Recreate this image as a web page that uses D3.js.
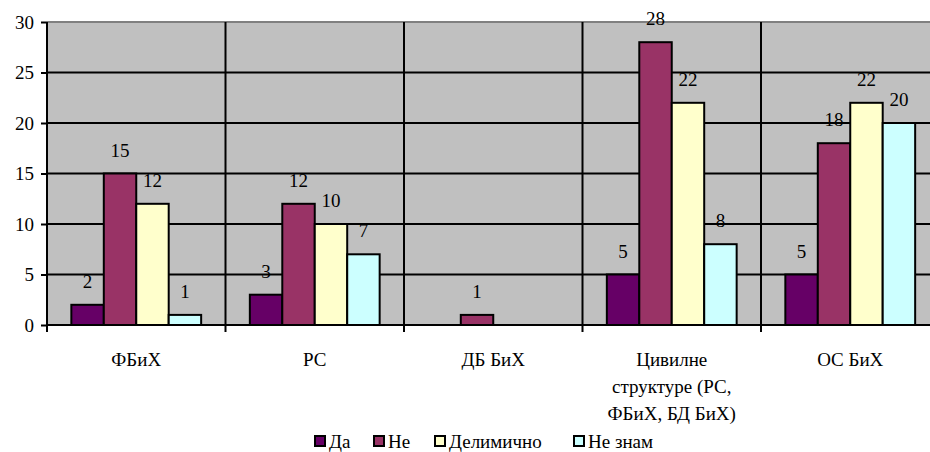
<!DOCTYPE html>
<html>
<head>
<meta charset="utf-8">
<script src="https://cdn.jsdelivr.net/npm/d3@7/dist/d3.min.js"></script>
<style>
  html, body { margin: 0; padding: 0; background: #fff; }
  svg { display: block; font-family: "Liberation Serif", "Times New Roman", serif; }
</style>
</head>
<body>
<svg id="chart" width="930" height="452"></svg>
<script>
const categories = ["ФБиХ", "РС", "ДБ БиХ", "Цивилне структуре (РС, ФБиХ, БД БиХ)", "ОС БиХ"];
const categoryLines = [["ФБиХ"], ["РС"], ["ДБ БиХ"], ["Цивилне", "структуре (РС,", "ФБиХ, БД БиХ)"], ["ОС БиХ"]];
const seriesNames = ["Да", "Не", "Делимично", "Не знам"];
const seriesColors = ["#660066", "#993366", "#FFFFCC", "#CCFFFF"];
const valuesDa = [2, 3, null, 5, 5];
const valuesNe = [15, 12, 1, 28, 18];
const valuesDelimicno = [12, 10, null, 22, 22];
const valuesNeZnam = [1, 7, null, 8, 20];
const yTicks = [0, 5, 10, 15, 20, 25, 30];

const seriesValues = [valuesDa, valuesNe, valuesDelimicno, valuesNeZnam];
const FONT = "'Liberation Serif', 'Times New Roman', serif";
const FS = 19;

const svg = d3.select("#chart");
const pLeft = 47, pTop = 22, pBottom = 325, pRight = 939.5;

const x0 = d3.scaleBand().domain(categories).range([pLeft, pRight]).paddingInner(0).paddingOuter(0);
const x1 = d3.scaleBand().domain(seriesNames).range([0, x0.bandwidth()]).paddingInner(0).paddingOuter(0.75);
const y = d3.scaleLinear().domain([0, 30]).range([pBottom, pTop]);

// plot area
svg.append("rect").attr("x", pLeft).attr("y", pTop).attr("width", pRight - pLeft).attr("height", pBottom - pTop)
  .attr("fill", "#C0C0C0");
svg.append("line").attr("x1", pLeft).attr("x2", pRight).attr("y1", pTop).attr("y2", pTop)
  .attr("stroke", "#808080").attr("stroke-width", 2);

// gridlines
svg.append("g").selectAll("line").data(yTicks.filter(d => d > 0 && d < 30)).join("line")
  .attr("x1", pLeft).attr("x2", pRight).attr("y1", d => y(d)).attr("y2", d => y(d))
  .attr("stroke", "#000").attr("stroke-width", 2);
svg.append("g").selectAll("line").data(categories.slice(1)).join("line")
  .attr("x1", d => x0(d)).attr("x2", d => x0(d)).attr("y1", pTop).attr("y2", pBottom + 7)
  .attr("stroke", "#000").attr("stroke-width", 2);

// bars
const groups = svg.append("g").selectAll("g").data(categories).join("g")
  .attr("transform", d => `translate(${x0(d)},0)`);
groups.each(function(cat, ci) {
  const g = d3.select(this);
  seriesNames.forEach((s, si) => {
    const v = seriesValues[si][ci];
    if (v == null) return;
    g.append("rect").attr("x", x1(s)).attr("width", x1.bandwidth())
      .attr("y", y(v)).attr("height", y(0) - y(v))
      .attr("fill", seriesColors[si]).attr("stroke", "#000").attr("stroke-width", 2);
  });
});

// y axis
const yAxis = d3.axisLeft(y).tickValues(yTicks).tickSize(6).tickPadding(7).tickFormat(d3.format("d"));
const ya = svg.append("g").attr("transform", `translate(${pLeft},0)`).call(yAxis)
  .attr("font-family", FONT).attr("font-size", FS);
ya.select(".domain").attr("stroke", "#000").attr("stroke-width", 2).attr("d", `M0,${pTop}V${pBottom}`);
ya.selectAll(".tick line").attr("stroke", "#000").attr("stroke-width", 2);
ya.selectAll(".tick text").attr("fill", "#000");

// x axis
svg.append("line").attr("x1", pLeft).attr("x2", pRight).attr("y1", pBottom).attr("y2", pBottom)
  .attr("stroke", "#000").attr("stroke-width", 2);
svg.append("line").attr("x1", pLeft).attr("x2", pLeft).attr("y1", pBottom).attr("y2", pBottom + 7)
  .attr("stroke", "#000").attr("stroke-width", 2);

// value labels
groups.each(function(cat, ci) {
  const g = d3.select(this);
  seriesNames.forEach((s, si) => {
    const v = seriesValues[si][ci];
    if (v == null) return;
    g.append("text").attr("x", x1(s) + x1.bandwidth() / 2).attr("y", y(v) - 17)
      .attr("text-anchor", "middle").attr("font-family", FONT).attr("font-size", FS)
      .attr("fill", "#000").text(v);
  });
});

// category labels
categories.forEach((c, ci) => {
  const cx = x0(c) + x0.bandwidth() / 2;
  const t = svg.append("text").attr("x", cx).attr("y", 366)
    .attr("text-anchor", "middle").attr("font-family", FONT).attr("font-size", FS).attr("fill", "#000");
  categoryLines[ci].forEach((line, li) => {
    t.append("tspan").attr("x", cx).attr("dy", li === 0 ? 0 : 27).text(line);
  });
});

// legend (item positions follow the reference layout)
const legendX = [315, 374, 435, 574];
const legend = svg.append("g");
seriesNames.forEach((s, si) => {
  legend.append("rect").attr("x", legendX[si]).attr("y", 436).attr("width", 10).attr("height", 10)
    .attr("fill", seriesColors[si]).attr("stroke", "#000").attr("stroke-width", 2);
  legend.append("text").attr("x", legendX[si] + 14).attr("y", 448).attr("font-family", FONT)
    .attr("font-size", FS).attr("fill", "#000").text(s);
});
</script>
</body>
</html>
